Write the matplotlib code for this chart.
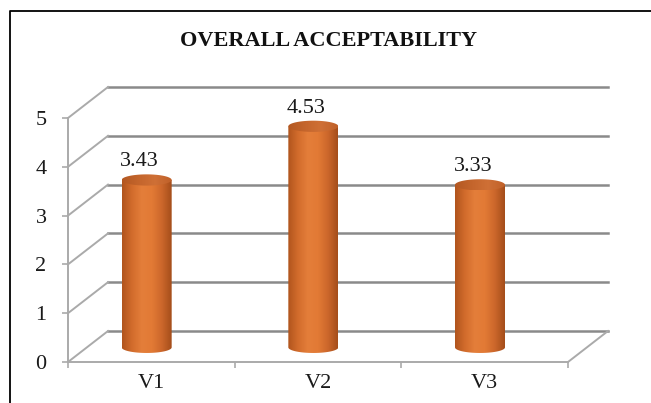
# 3D-style cylinder bar chart of overall acceptability scores
import numpy as np
import matplotlib
matplotlib.use('Agg')
import matplotlib.pyplot as plt
from matplotlib.path import Path
from matplotlib.patches import PathPatch
from matplotlib.lines import Line2D
from matplotlib.colors import LinearSegmentedColormap

# Data
categories = ['V1', 'V2', 'V3']
scores = [3.43, 4.53, 3.33]
y_ticks = [0, 1, 2, 3, 4, 5]
title = 'OVERALL ACCEPTABILITY'

plt.rcParams['font.family'] = ['Liberation Serif', 'DejaVu Serif']

W, H = 651, 403
fig = plt.figure(figsize=(W / 100, H / 100), dpi=100)
fig.patch.set_facecolor('white')

# front plane of the plot: x 68..568 px, y 362..118 px
ax = fig.add_axes([68 / W, (H - 362) / H, 500 / W, 244 / H])
ax.set_xlim(0, len(categories))
ax.set_ylim(0, 5)
ax.set_facecolor('none')

# depth offset of the back wall (in data units)
dx = 40 / 500 * 3
dy = 31 / 244 * 5

back_col = '#8a8a8a'
side_col = '#aaaaaa'

# back wall gridlines and side wall diagonals
for k in y_ticks:
    ax.plot([dx, 3 + dx], [k + dy, k + dy], color=back_col, lw=1.8, clip_on=False, zorder=1)
    ax.plot([0, dx], [k, k + dy], color=side_col, lw=1.4, clip_on=False, zorder=1)
# floor right edge
ax.plot([3, 3 + dx], [0, dy], color=side_col, lw=1.4, clip_on=False, zorder=1)

# front axes as spines
for s in ['top', 'right']:
    ax.spines[s].set_visible(False)
ax.spines['left'].set_color(side_col)
ax.spines['left'].set_linewidth(1.4)
ax.spines['bottom'].set_color(side_col)
ax.spines['bottom'].set_linewidth(1.4)

ax.set_yticks(y_ticks)
ax.set_yticklabels([str(t) for t in y_ticks], fontsize=16, color='#1a1a1a')
ax.tick_params(axis='y', length=4.5, width=1.2, color=side_col, pad=11)
ax.set_xticks(np.arange(len(categories)) + 0.5)
ax.set_xticklabels(categories, fontsize=16, color='#1a1a1a')
ax.tick_params(axis='x', which='major', length=0, pad=9)
ax.set_xticks(np.arange(len(categories) + 1), minor=True)
ax.tick_params(axis='x', which='minor', length=4, width=1.2, color=side_col)

# cylinders
body_cmap = LinearSegmentedColormap.from_list(
    'body', ['#b0541d', '#d26c2c', '#e47e3a', '#e27a35', '#cc672b', '#a44d1a'])
top_cmap = LinearSegmentedColormap.from_list(
    'top', ['#b35822', '#c4652c', '#cf7036', '#bf6029'])

cyl_w = 0.30
ell_h = 0.115
mid_dy = 0.30
t = np.linspace(np.pi, 2 * np.pi, 60)
grad = np.linspace(0, 1, 256).reshape(1, -1)

for i, v in enumerate(scores):
    cx = i + 0.472
    yb = mid_dy
    yt = v + mid_dy
    # body outline: left side, lower half ellipse, right side
    xs = [cx - cyl_w / 2] + list(cx + cyl_w / 2 * np.cos(t)) + [cx + cyl_w / 2]
    ys = [yt] + list(yb + ell_h * np.sin(t)) + [yt]
    verts = list(zip(xs, ys)) + [(xs[0], ys[0])]
    body = PathPatch(Path(verts, closed=True), facecolor='none', edgecolor='none', clip_on=False)
    ax.add_patch(body)
    im = ax.imshow(grad, cmap=body_cmap, aspect='auto', zorder=3,
                   extent=[cx - cyl_w / 2, cx + cyl_w / 2, yb - ell_h, yt])
    im.set_clip_path(body)

    # top ellipse
    tt = np.linspace(0, 2 * np.pi, 80)
    tverts = list(zip(cx + cyl_w / 2 * np.cos(tt), yt + ell_h * np.sin(tt)))
    top = PathPatch(Path(tverts, closed=True), facecolor='none', edgecolor='none', clip_on=False)
    ax.add_patch(top)
    im2 = ax.imshow(grad, cmap=top_cmap, aspect='auto', zorder=4,
                    extent=[cx - cyl_w / 2, cx + cyl_w / 2, yt - ell_h, yt + ell_h])
    im2.set_clip_path(top)

    ax.text(i + 0.43, v + 0.67, f'{v:.2f}', ha='center', va='center',
            fontsize=16, color='#1a1a1a', zorder=5)

ax.set_xlim(0, len(categories))
ax.set_ylim(0, 5)

# title and outer frame
fig.text(329 / W, 1 - 41 / H, title, ha='center', va='center',
         fontsize=16, fontweight='bold', color='#111111')
fig.add_artist(Line2D([10 / W, 10 / W, 1], [0, 1 - 11 / H, 1 - 11 / H],
                      transform=fig.transFigure, color='black', lw=1.3))

fig.savefig('out.png', dpi=100)
